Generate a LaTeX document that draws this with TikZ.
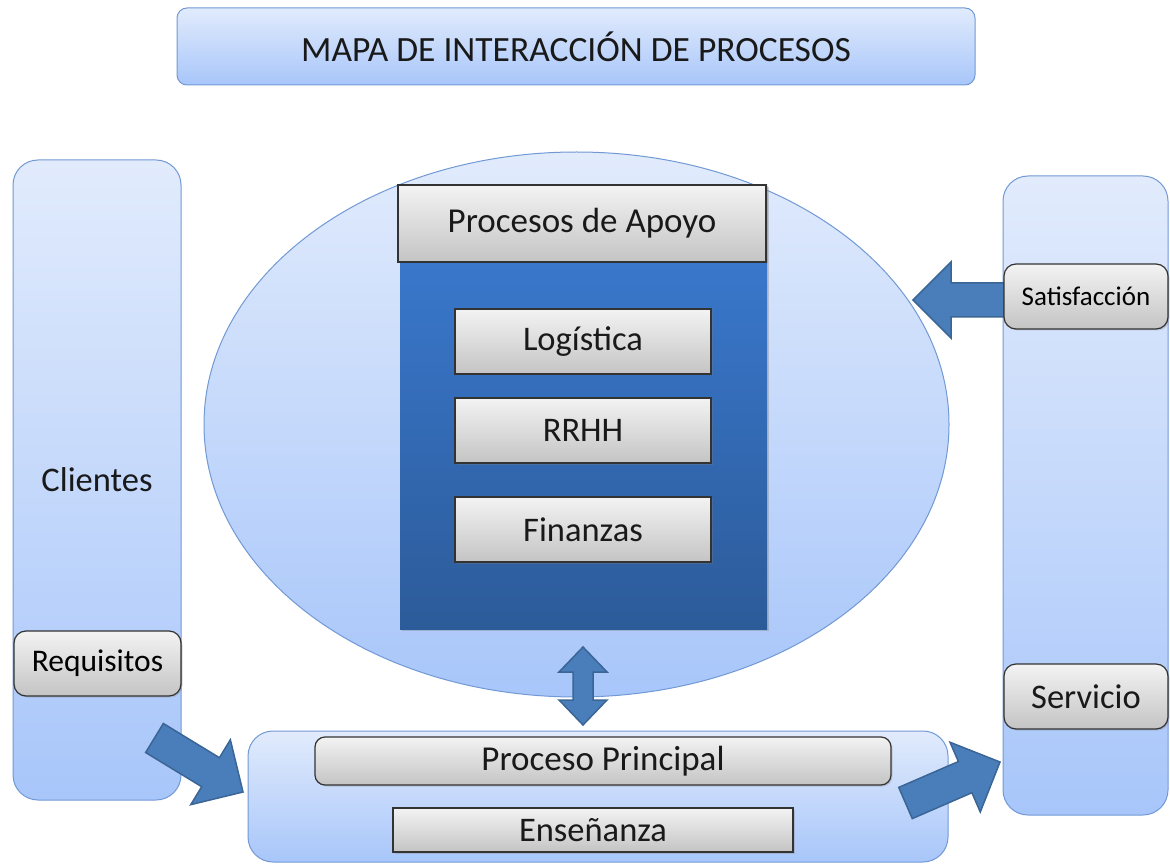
\documentclass[tikz,border=0pt]{standalone}
\usepackage{fontspec}
\setmainfont{Carlito}
\usetikzlibrary{calc,shadows,shapes.geometric}

\definecolor{paletop}{HTML}{E1EBFC}
\definecolor{palebot}{HTML}{A8C6FA}
\definecolor{paleline}{HTML}{7199D4}
\definecolor{greytop}{HTML}{F3F3F3}
\definecolor{greybot}{HTML}{C4C4C4}
\definecolor{greyline}{HTML}{333333}
\definecolor{deeptop}{HTML}{3C7DD6}
\definecolor{deepbot}{HTML}{2C5B99}
\definecolor{arrowfill}{HTML}{4A7EBB}
\definecolor{arrowline}{HTML}{3A6595}

\tikzset{
  panel/.style={draw=paleline, line width=1pt, top color=paletop,
    bottom color=palebot, rounded corners=#1, inner sep=0pt},
  panel/.default=10pt,
  greybox/.style={draw=greyline, line width=1.2pt, top color=greytop,
    bottom color=greybot, rounded corners=#1, inner sep=0pt,
    drop shadow={shadow xshift=1.5pt, shadow yshift=-1.5pt, opacity=.3}},
  greybox/.default=0pt,
  big/.style={font=\fontsize{34.5}{40}\selectfont, text=black!90},
  fatarrow/.style={draw=arrowline, line width=1.5pt, fill=arrowfill, line join=miter}
}

\newcommand\blockarrow[2]{%
  \coordinate (ab) at ($(#2)!38pt!(#1)$);
  \draw[fatarrow] ($(#1)!17pt!90:(#2)$) -- ($(ab)!17pt!90:(#2)$)
    -- ($(ab)!38pt!90:(#2)$) -- (#2) -- ($(ab)!38pt!-90:(#2)$)
    -- ($(ab)!17pt!-90:(#2)$) -- ($(#1)!17pt!-90:(#2)$) -- cycle;
}

\begin{document}
\begin{tikzpicture}[x=1pt, y=-1pt]
  \useasboundingbox (0,0) rectangle (1170,866);

  \node[panel, big, font=\fontsize{35.5}{40}\selectfont, minimum width=798pt, minimum height=77pt]
    (title) at (576,46.5) {MAPA DE INTERACCIÓN DE PROCESOS};

  \node[panel=25pt, big, minimum width=168pt, minimum height=640pt] (clientes) at (97,480) {Clientes};
  \node[greybox=12pt, font=\fontsize{31.5}{36}\selectfont, minimum width=167pt, minimum height=65pt]
    (requisitos) at (97.5,663.5) {Requisitos};

  \node[panel=25pt, minimum width=165pt, minimum height=639pt] (salida) at (1085.5,495.5) {};
  \node[greybox=12pt, big, minimum width=164pt, minimum height=65pt] (servicio) at (1086,696.5) {Servicio};

  \node[ellipse, draw=paleline, line width=1pt, top color=paletop, bottom color=palebot,
    minimum width=745pt, minimum height=545pt] (ovalo) at (576.5,424.5) {};
  \node[top color=deeptop, bottom color=deepbot, minimum width=367pt, minimum height=444pt,
    drop shadow={shadow xshift=2pt, shadow yshift=-2pt, opacity=.35}] (apoyo) at (583.5,407) {};
  \node[greybox, big, font=\fontsize{35}{40}\selectfont, minimum width=368pt, minimum height=77pt]
    (cabecera) at (582,223.5) {Procesos de Apoyo};
  \node[greybox, big, minimum width=256pt, minimum height=65pt] (logistica) at (583,341.5) {Logística};
  \node[greybox, big, minimum width=256pt, minimum height=65pt] (rrhh) at (583,430.5) {RRHH};
  \node[greybox, big, minimum width=256pt, minimum height=65pt] (finanzas) at (583,529.5) {Finanzas};

  \node[panel=25pt, minimum width=700pt, minimum height=131pt] (principal) at (598,796.5) {};
  \node[greybox=10pt, big, font=\fontsize{35}{40}\selectfont, minimum width=576pt, minimum height=48pt]
    (proceso) at (603,761) {Proceso Principal};
  \node[greybox, big, minimum width=400pt, minimum height=44pt] (ensenanza) at (593,830) {Enseñanza};

  \coordinate (reqtail) at (154.5,738);
  \coordinate (reqtip) at (243,792);
  \coordinate (servtail) at (905.5,803);
  \coordinate (servtip) at (1000,762);
  \coordinate (sattail) at (1004,300);
  \coordinate (sattip) at (913,300);
  \coordinate (uptip) at (583,647);
  \coordinate (downtip) at (583,725);

  \blockarrow{reqtail}{reqtip}
  \blockarrow{servtail}{servtip}
  \blockarrow{sattail}{sattip}

  \coordinate (ua) at ($(uptip)!25pt!(downtip)$);
  \coordinate (la) at ($(downtip)!25pt!(uptip)$);
  \draw[fatarrow] (uptip) -- ($(ua)!24pt!90:(uptip)$) -- ($(ua)!10pt!90:(uptip)$)
    -- ($(la)!10pt!90:(uptip)$) -- ($(la)!24pt!90:(uptip)$) -- (downtip)
    -- ($(la)!24pt!-90:(uptip)$) -- ($(la)!10pt!-90:(uptip)$)
    -- ($(ua)!10pt!-90:(uptip)$) -- ($(ua)!24pt!-90:(uptip)$) -- cycle;

  \node[greybox=12pt, font=\fontsize{27}{32}\selectfont, minimum width=164pt, minimum height=65pt]
    (satisfaccion) at (1086,296.5) {Satisfacción};
\end{tikzpicture}
\end{document}
